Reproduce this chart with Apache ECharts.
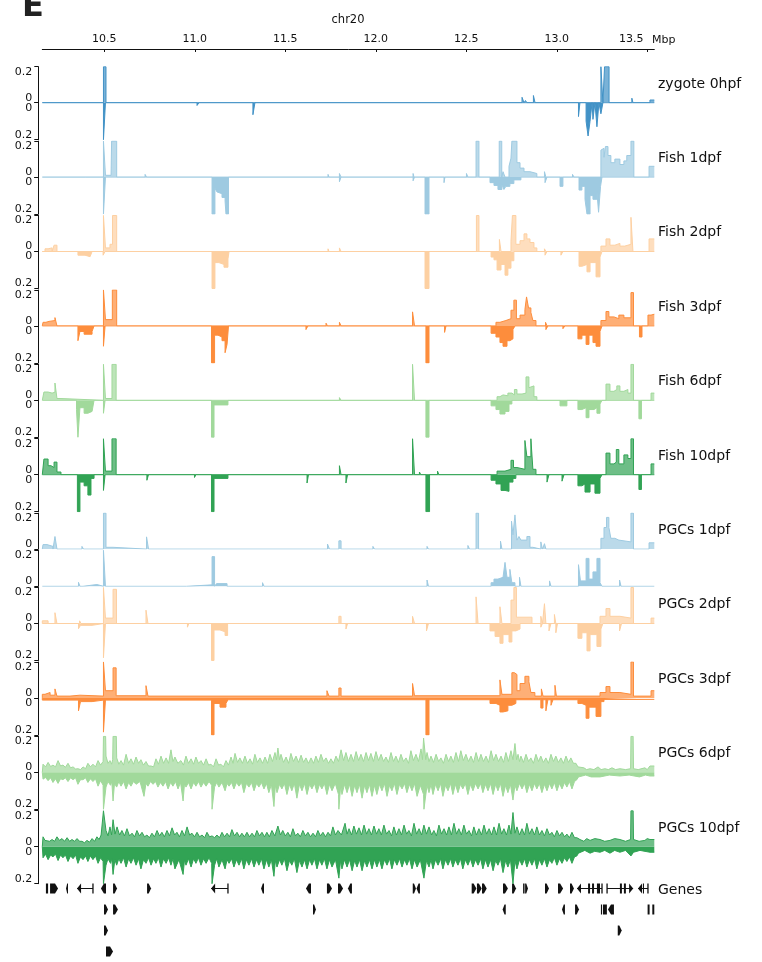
<!DOCTYPE html>
<html><head><meta charset="utf-8">
<script src="https://cdn.jsdelivr.net/npm/echarts@6/dist/echarts.min.js"></script>
<style>html,body{margin:0;padding:0;background:#fff}#c{width:762px;height:962px}</style>
</head><body><div id="c"></div>
<script>
const XMIN = 10.157, XMAX = 13.539;
const xTicks = [10.5, 11.0, 11.5, 12.0, 12.5, 13.0, 13.5];
const trackNames = ['zygote 0hpf','Fish 1dpf','Fish 2dpf','Fish 3dpf','Fish 6dpf','Fish 10dpf','PGCs 1dpf','PGCs 2dpf','PGCs 3dpf','PGCs 6dpf','PGCs 10dpf'];
const trackColors = ['#4292c6','#9ecae1','#fdd0a2','#fd8d3c','#a1d99b','#31a354','#9ecae1','#fdd0a2','#fd8d3c','#a1d99b','#31a354'];

// sparse tracks: change points [Mbp, value] (value holds until next point)
const zygoteUp = [[10.495,0.2],[10.509,0],[10.531,0.01],[10.537,0],[12.808,0.03],[12.819,0],[12.827,0.012],[12.835,0],[12.871,0.04],[12.880,0],[13.244,0.2],[13.255,0],[13.264,0.2],[13.289,0],[13.415,0.025],[13.421,0],[13.515,0.015]];
const zygoteDown = [[10.495,0.2],[10.506,0],[11.012,0.015],[11.023,0],[11.321,0.065],[11.332,0],[13.120,0.075],[13.128,0],[13.162,0.1],[13.173,0.18],[13.184,0.1],[13.195,0],[13.200,0.09],[13.211,0],[13.222,0.13],[13.233,0],[13.244,0.06],[13.255,0]];

const fish1Up = [[10.495,0.2],[10.506,0.01],[10.537,0],[10.540,0.2],[10.568,0],[10.725,0.015],[10.733,0],[11.736,0.015],[11.741,0],[11.799,0.02],[11.808,0],[12.206,0.02],[12.211,0],[12.501,0.02],[12.509,0],[12.554,0.2],[12.570,0],[12.682,0.2],[12.696,0],[12.703,0.03],[12.714,0],[12.736,0.06],[12.747,0.105],[12.752,0.2],[12.780,0.08],[12.797,0.05],[12.819,0.03],[12.852,0.02],[12.890,0],[12.932,0.03],[12.940,0],[13.087,0.015],[13.095,0],[13.244,0.15],[13.250,0.16],[13.261,0.11],[13.269,0.17],[13.283,0.12],[13.299,0.08],[13.321,0.1],[13.349,0.07],[13.371,0.09],[13.387,0.12],[13.410,0.2],[13.426,0],[13.510,0.06]];
const fish1Down = [[10.398,0.01],[10.409,0],[10.495,0.2],[10.506,0],[11.095,0.2],[11.111,0.06],[11.122,0.08],[11.133,0.09],[11.150,0.11],[11.167,0.13],[11.172,0.2],[11.186,0],[11.799,0.025],[11.808,0],[12.206,0.02],[12.214,0],[12.272,0.2],[12.294,0],[12.377,0.03],[12.382,0],[12.631,0.03],[12.653,0.045],[12.675,0.067],[12.697,0.04],[12.708,0.067],[12.719,0.05],[12.741,0.035],[12.763,0.015],[12.802,0],[12.935,0.03],[12.946,0],[13.018,0.05],[13.034,0],[13.123,0.07],[13.139,0.05],[13.156,0.12],[13.167,0.2],[13.184,0.1],[13.200,0.12],[13.222,0.08],[13.231,0.19],[13.242,0.05],[13.250,0]];

const fish2Up = [[10.172,0.015],[10.189,0.02],[10.211,0],[10.222,0.035],[10.238,0],[10.495,0.2],[10.506,0.02],[10.531,0.04],[10.545,0.2],[10.568,0],[11.736,0.015],[11.741,0],[11.799,0.02],[11.808,0],[12.556,0.2],[12.570,0],[12.683,0.067],[12.692,0],[12.747,0.057],[12.755,0.2],[12.774,0.04],[12.797,0.06],[12.819,0.098],[12.835,0.07],[12.852,0.05],[12.874,0.02],[12.890,0],[12.932,0.015],[12.940,0],[13.244,0.03],[13.272,0.07],[13.294,0.035],[13.321,0.045],[13.349,0.03],[13.376,0.04],[13.410,0.19],[13.421,0],[13.510,0.07]];
const fish2Down = [[10.354,0.02],[10.393,0.028],[10.421,0.02],[10.432,0],[10.493,0.02],[10.504,0],[11.095,0.2],[11.111,0.06],[11.133,0.07],[11.161,0.085],[11.183,0.04],[11.189,0],[12.272,0.2],[12.294,0],[12.637,0.03],[12.653,0.045],[12.670,0.1],[12.692,0.07],[12.714,0.128],[12.730,0.09],[12.747,0.05],[12.763,0],[12.935,0.02],[12.946,0],[13.023,0.02],[13.034,0],[13.123,0.08],[13.139,0.07],[13.167,0.11],[13.184,0.06],[13.217,0.137],[13.239,0.03],[13.250,0]];

const fish3Up = [[10.161,0.02],[10.177,0.025],[10.194,0.03],[10.227,0.046],[10.238,0],[10.495,0.2],[10.506,0.035],[10.544,0.2],[10.568,0],[10.730,0.01],[10.738,0],[11.725,0.015],[11.733,0],[11.799,0.02],[11.808,0],[12.203,0.078],[12.214,0],[12.664,0.02],[12.686,0.03],[12.719,0.04],[12.747,0.087],[12.763,0.143],[12.777,0.04],[12.797,0.06],[12.824,0.09],[12.833,0.161],[12.844,0.1],[12.857,0.075],[12.868,0.03],[12.885,0],[12.938,0.02],[12.946,0],[13.244,0.03],[13.272,0.08],[13.288,0.05],[13.316,0.04],[13.343,0.06],[13.371,0.045],[13.410,0.185],[13.424,0],[13.504,0.06],[13.521,0.065]];
const fish3Down = [[10.354,0.08],[10.365,0.03],[10.388,0.045],[10.432,0.03],[10.443,0],[10.495,0.11],[10.504,0],[11.092,0.2],[11.109,0.05],[11.128,0.06],[11.150,0.08],[11.167,0.145],[11.178,0.1],[11.186,0],[11.614,0.02],[11.625,0],[12.277,0.2],[12.294,0],[12.380,0.035],[12.388,0],[12.637,0.04],[12.664,0.06],[12.686,0.09],[12.703,0.11],[12.725,0.08],[12.741,0.07],[12.758,0.02],[12.769,0],[12.940,0.02],[12.951,0],[13.034,0.015],[13.045,0],[13.117,0.07],[13.139,0.05],[13.162,0.1],[13.178,0.05],[13.200,0.09],[13.217,0.11],[13.239,0.03],[13.250,0],[13.457,0.06],[13.471,0]];

const fish6Up = [[10.166,0.046],[10.189,0.04],[10.211,0.045],[10.227,0.096],[10.238,0.01],[10.255,0],[10.495,0.2],[10.506,0.01],[10.542,0.2],[10.565,0],[11.799,0.015],[11.808,0],[12.203,0.2],[12.214,0],[12.601,0.01],[12.609,0],[12.670,0.02],[12.686,0.03],[12.703,0.025],[12.730,0.04],[12.752,0.03],[12.766,0.06],[12.780,0.035],[12.808,0.04],[12.830,0.13],[12.846,0.07],[12.857,0.08],[12.874,0.02],[12.890,0],[13.272,0.09],[13.294,0.05],[13.316,0.06],[13.332,0.08],[13.349,0.05],[13.371,0.06],[13.393,0.04],[13.410,0.2],[13.424,0],[13.521,0.04]];
const fish6Down = [[10.346,0.05],[10.354,0.2],[10.365,0.04],[10.388,0.07],[10.409,0.06],[10.432,0.05],[10.443,0],[10.495,0.07],[10.504,0],[11.092,0.2],[11.106,0.025],[11.183,0],[12.277,0.2],[12.294,0],[12.637,0.03],[12.664,0.05],[12.686,0.074],[12.714,0.06],[12.736,0.02],[12.752,0],[13.018,0.03],[13.056,0],[13.117,0.05],[13.139,0.04],[13.162,0.094],[13.178,0.05],[13.206,0.04],[13.222,0.07],[13.239,0.02],[13.250,0],[13.454,0.1],[13.468,0]];

const fish10Up = [[10.166,0.087],[10.189,0.05],[10.205,0.04],[10.222,0.07],[10.238,0.015],[10.260,0],[10.495,0.2],[10.506,0.02],[10.542,0.2],[10.565,0],[10.722,0.01],[10.730,0],[11.310,0.01],[11.319,0],[11.799,0.05],[11.808,0],[12.203,0.2],[12.214,0],[12.241,0.015],[12.249,0],[12.341,0.02],[12.349,0],[12.670,0.02],[12.714,0.03],[12.747,0.08],[12.761,0.04],[12.780,0.03],[12.824,0.19],[12.835,0.1],[12.857,0.2],[12.868,0.03],[12.885,0],[13.272,0.12],[13.294,0.06],[13.316,0.07],[13.329,0.14],[13.343,0.06],[13.371,0.11],[13.393,0.09],[13.410,0.2],[13.424,0],[13.521,0.06]];
const fish10Down = [[10.351,0.2],[10.365,0.04],[10.388,0.06],[10.409,0.11],[10.426,0.02],[10.443,0],[10.495,0.085],[10.504,0],[10.735,0.03],[10.744,0],[10.998,0.015],[11.006,0],[11.092,0.2],[11.106,0.02],[11.183,0],[11.620,0.045],[11.628,0],[11.835,0.045],[11.844,0],[12.277,0.2],[12.297,0],[12.637,0.03],[12.664,0.05],[12.692,0.085],[12.714,0.09],[12.736,0.04],[12.758,0.02],[12.774,0],[12.946,0.04],[12.957,0],[13.029,0.035],[13.040,0],[13.117,0.06],[13.139,0.05],[13.156,0.094],[13.184,0.05],[13.211,0.1],[13.239,0.02],[13.250,0],[13.454,0.08],[13.468,0]];

const pgc1Up = [[10.161,0.025],[10.183,0.015],[10.216,0],[10.227,0.07],[10.238,0],[10.376,0.015],[10.385,0],[10.495,0.2],[10.509,0.01],[10.548,0],[10.733,0.068],[10.744,0],[11.733,0.028],[11.744,0],[11.796,0.046],[11.808,0],[11.984,0.015],[11.993,0],[12.249,0.01],[12.258,0],[12.283,0.015],[12.291,0],[12.509,0.02],[12.518,0],[12.554,0.2],[12.568,0],[12.689,0.044],[12.697,0],[12.750,0.155],[12.758,0.08],[12.769,0.19],[12.780,0.05],[12.791,0.07],[12.802,0.05],[12.835,0.07],[12.852,0.01],[12.868,0],[12.912,0.04],[12.921,0],[12.932,0.03],[12.940,0],[13.244,0.06],[13.261,0.12],[13.275,0.176],[13.288,0.12],[13.299,0.06],[13.321,0.05],[13.343,0.04],[13.410,0.2],[13.424,0],[13.510,0.035]];
const pgc1Low = [[10.357,0.022],[10.365,0],[10.382,0.01],[10.459,0],[10.495,0.2],[10.506,0],[10.954,0.008],[11.095,0.165],[11.109,0],[11.120,0.015],[11.178,0],[11.374,0.02],[11.382,0],[12.283,0.035],[12.291,0],[12.637,0.02],[12.653,0.04],[12.675,0.05],[12.703,0.04],[12.714,0.133],[12.725,0.05],[12.741,0.094],[12.752,0.02],[12.769,0],[12.794,0.05],[12.802,0],[12.960,0.03],[12.968,0],[13.120,0.12],[13.131,0.03],[13.162,0.155],[13.178,0.04],[13.200,0.08],[13.222,0.155],[13.239,0.02],[13.250,0],[13.347,0.035],[13.355,0]];

const pgc2Up = [[10.157,0.015],[10.189,0],[10.227,0.06],[10.238,0],[10.363,0.015],[10.371,0],[10.495,0.2],[10.506,0.03],[10.548,0.19],[10.567,0],[10.730,0.074],[10.741,0],[10.824,0.01],[10.832,0],[11.796,0.04],[11.808,0],[12.203,0.04],[12.214,0],[12.554,0.148],[12.565,0],[12.686,0.093],[12.697,0],[12.747,0.13],[12.763,0.2],[12.777,0.035],[12.863,0],[12.912,0.04],[12.921,0],[12.932,0.11],[12.940,0],[12.987,0.05],[12.995,0],[13.239,0.04],[13.272,0.083],[13.294,0.04],[13.349,0.03],[13.410,0.2],[13.424,0],[13.521,0.03]];
const pgc2Down = [[10.357,0.028],[10.368,0.01],[10.432,0],[10.495,0.185],[10.506,0],[10.959,0.02],[10.967,0],[11.092,0.2],[11.106,0.035],[11.139,0.045],[11.167,0.065],[11.181,0],[11.835,0.03],[11.844,0],[12.280,0.04],[12.291,0],[12.631,0.04],[12.659,0.07],[12.686,0.107],[12.703,0.06],[12.736,0.1],[12.752,0.04],[12.774,0.03],[12.797,0],[12.912,0.02],[12.921,0],[12.957,0.04],[12.968,0],[12.995,0.05],[13.004,0],[13.117,0.08],[13.139,0.05],[13.167,0.148],[13.184,0.06],[13.222,0.124],[13.244,0.03],[13.255,0],[13.347,0.04],[13.358,0]];

const pgc3Up = [[10.157,0.02],[10.172,0.03],[10.200,0.015],[10.227,0.05],[10.238,0.01],[10.310,0.015],[10.365,0.01],[10.495,0.2],[10.506,0.04],[10.548,0.167],[10.565,0.012],[10.730,0.068],[10.741,0.01],[11.730,0.04],[11.741,0.01],[11.796,0.055],[11.808,0.01],[12.203,0.08],[12.214,0.012],[12.686,0.1],[12.697,0.02],[12.752,0.14],[12.766,0.13],[12.780,0.04],[12.797,0.08],[12.824,0.12],[12.846,0.09],[12.857,0.03],[12.879,0.01],[12.915,0.05],[12.924,0.01],[12.990,0.07],[12.998,0.01],[13.239,0.03],[13.272,0.063],[13.294,0.03],[13.349,0.02],[13.410,0.2],[13.424,0.01],[13.521,0.04]];
const pgc3Down = [[10.157,0.012],[10.357,0.07],[10.368,0.02],[10.432,0.012],[10.495,0.185],[10.506,0.012],[11.092,0.2],[11.106,0.03],[11.139,0.05],[11.172,0.03],[11.183,0.01],[11.835,0.02],[11.844,0.01],[12.277,0.2],[12.294,0.01],[12.631,0.03],[12.664,0.04],[12.686,0.076],[12.703,0.07],[12.730,0.04],[12.752,0.03],[12.774,0.01],[12.912,0.055],[12.924,0.01],[12.940,0.07],[12.951,0.01],[12.968,0.04],[12.979,0.01],[13.117,0.03],[13.139,0.04],[13.162,0.11],[13.178,0.05],[13.217,0.1],[13.244,0.02],[13.261,0.008]];

// dense tracks: vertices [Mbp, value] (peaks and troughs)
const pgc6Up = [[10.161,0.045],[10.175,0.03],[10.189,0.055],[10.203,0.032],[10.216,0.04],[10.230,0.03],[10.244,0.065],[10.258,0.035],[10.271,0.04],[10.285,0.028],[10.299,0.05],[10.313,0.025],[10.327,0.03],[10.341,0.018],[10.354,0.02],[10.368,0.015],[10.382,0.03],[10.396,0.02],[10.409,0.05],[10.423,0.03],[10.437,0.045],[10.451,0.03],[10.465,0.065],[10.479,0.04],[10.493,0.06],[10.495,0.2],[10.507,0.2],[10.509,0.09],[10.520,0.05],[10.531,0.065],[10.540,0.045],[10.546,0.07],[10.548,0.2],[10.566,0.2],[10.568,0.08],[10.580,0.045],[10.592,0.065],[10.606,0.04],[10.620,0.1],[10.634,0.05],[10.647,0.075],[10.661,0.045],[10.675,0.085],[10.689,0.05],[10.702,0.07],[10.716,0.04],[10.730,0.06],[10.744,0.035],[10.758,0.035],[10.772,0.03],[10.785,0.075],[10.799,0.045],[10.813,0.09],[10.827,0.05],[10.841,0.08],[10.855,0.05],[10.868,0.125],[10.879,0.06],[10.890,0.085],[10.906,0.05],[10.923,0.065],[10.937,0.04],[10.951,0.09],[10.965,0.05],[10.979,0.075],[10.993,0.045],[11.006,0.085],[11.020,0.05],[11.034,0.065],[11.048,0.04],[11.062,0.075],[11.076,0.04],[11.089,0.045],[11.103,0.03],[11.117,0.075],[11.131,0.04],[11.144,0.045],[11.158,0.03],[11.172,0.065],[11.186,0.04],[11.200,0.085],[11.211,0.05],[11.222,0.105],[11.236,0.055],[11.249,0.08],[11.263,0.05],[11.277,0.09],[11.291,0.05],[11.305,0.075],[11.319,0.045],[11.332,0.1],[11.346,0.055],[11.360,0.08],[11.374,0.05],[11.388,0.085],[11.402,0.05],[11.415,0.1],[11.429,0.06],[11.443,0.11],[11.451,0.07],[11.459,0.135],[11.468,0.07],[11.476,0.1],[11.490,0.055],[11.504,0.085],[11.518,0.05],[11.531,0.105],[11.545,0.06],[11.559,0.09],[11.573,0.055],[11.587,0.095],[11.601,0.055],[11.614,0.08],[11.628,0.05],[11.642,0.08],[11.656,0.05],[11.669,0.09],[11.683,0.055],[11.697,0.1],[11.711,0.06],[11.725,0.08],[11.739,0.05],[11.752,0.075],[11.766,0.05],[11.780,0.09],[11.794,0.06],[11.808,0.125],[11.822,0.065],[11.835,0.11],[11.849,0.06],[11.863,0.1],[11.877,0.06],[11.891,0.115],[11.905,0.065],[11.918,0.1],[11.932,0.06],[11.946,0.11],[11.960,0.065],[11.973,0.105],[11.987,0.06],[12.001,0.115],[12.015,0.065],[12.029,0.1],[12.043,0.06],[12.056,0.085],[12.070,0.055],[12.084,0.11],[12.098,0.06],[12.111,0.09],[12.125,0.055],[12.139,0.1],[12.153,0.06],[12.167,0.08],[12.181,0.05],[12.194,0.12],[12.208,0.065],[12.222,0.1],[12.236,0.06],[12.250,0.13],[12.258,0.07],[12.264,0.19],[12.269,0.19],[12.276,0.07],[12.283,0.11],[12.294,0.06],[12.305,0.09],[12.319,0.055],[12.333,0.1],[12.347,0.06],[12.360,0.08],[12.374,0.05],[12.388,0.1],[12.402,0.06],[12.415,0.09],[12.429,0.055],[12.443,0.11],[12.457,0.06],[12.470,0.12],[12.484,0.065],[12.498,0.1],[12.512,0.06],[12.526,0.09],[12.540,0.055],[12.554,0.11],[12.568,0.06],[12.581,0.1],[12.595,0.06],[12.609,0.09],[12.623,0.055],[12.637,0.12],[12.651,0.065],[12.664,0.1],[12.678,0.06],[12.692,0.09],[12.706,0.055],[12.719,0.11],[12.733,0.06],[12.747,0.12],[12.758,0.07],[12.769,0.16],[12.778,0.07],[12.786,0.1],[12.794,0.06],[12.802,0.09],[12.816,0.055],[12.830,0.1],[12.844,0.06],[12.857,0.08],[12.871,0.05],[12.885,0.1],[12.899,0.06],[12.912,0.09],[12.926,0.055],[12.940,0.08],[12.954,0.05],[12.968,0.1],[12.982,0.06],[12.995,0.09],[13.009,0.055],[13.023,0.08],[13.037,0.05],[13.051,0.09],[13.065,0.055],[13.078,0.08],[13.092,0.05],[13.106,0.05],[13.117,0.03],[13.128,0.02],[13.150,0.025],[13.165,0.015],[13.184,0.02],[13.205,0.015],[13.228,0.03],[13.245,0.015],[13.266,0.02],[13.285,0.015],[13.305,0.025],[13.325,0.015],[13.349,0.02],[13.380,0.015],[13.408,0.02],[13.410,0.2],[13.422,0.2],[13.424,0.02],[13.450,0.015],[13.487,0.025],[13.500,0.015],[13.515,0.035]];
const pgc6Down = [[10.161,0.037],[10.175,0.028],[10.189,0.045],[10.203,0.03],[10.216,0.055],[10.230,0.035],[10.244,0.06],[10.258,0.035],[10.271,0.04],[10.285,0.03],[10.299,0.05],[10.313,0.03],[10.327,0.04],[10.341,0.03],[10.354,0.065],[10.368,0.04],[10.382,0.04],[10.396,0.03],[10.409,0.055],[10.423,0.035],[10.437,0.05],[10.451,0.035],[10.465,0.075],[10.479,0.045],[10.493,0.07],[10.495,0.2],[10.505,0.2],[10.509,0.08],[10.520,0.05],[10.534,0.07],[10.541,0.05],[10.548,0.155],[10.556,0.06],[10.568,0.08],[10.580,0.05],[10.592,0.075],[10.606,0.05],[10.620,0.09],[10.634,0.055],[10.647,0.075],[10.661,0.05],[10.675,0.065],[10.697,0.05],[10.719,0.13],[10.730,0.06],[10.741,0.075],[10.755,0.05],[10.769,0.065],[10.783,0.05],[10.796,0.08],[10.810,0.055],[10.824,0.075],[10.838,0.05],[10.852,0.09],[10.866,0.055],[10.879,0.075],[10.893,0.05],[10.907,0.09],[10.921,0.055],[10.935,0.155],[10.943,0.06],[10.951,0.08],[10.965,0.055],[10.979,0.09],[10.993,0.055],[11.006,0.075],[11.020,0.05],[11.034,0.08],[11.048,0.055],[11.062,0.075],[11.078,0.05],[11.093,0.07],[11.095,0.2],[11.105,0.2],[11.109,0.08],[11.121,0.055],[11.133,0.08],[11.150,0.055],[11.167,0.1],[11.178,0.06],[11.189,0.075],[11.203,0.055],[11.216,0.09],[11.230,0.055],[11.244,0.075],[11.258,0.055],[11.271,0.11],[11.285,0.06],[11.299,0.08],[11.313,0.055],[11.327,0.1],[11.341,0.06],[11.354,0.08],[11.368,0.055],[11.382,0.09],[11.396,0.06],[11.409,0.11],[11.423,0.065],[11.437,0.185],[11.445,0.07],[11.454,0.11],[11.468,0.065],[11.481,0.09],[11.495,0.06],[11.509,0.12],[11.523,0.065],[11.536,0.1],[11.550,0.06],[11.564,0.14],[11.578,0.065],[11.592,0.1],[11.606,0.06],[11.620,0.12],[11.634,0.065],[11.647,0.09],[11.661,0.06],[11.675,0.11],[11.689,0.065],[11.702,0.09],[11.716,0.06],[11.730,0.12],[11.744,0.065],[11.758,0.1],[11.776,0.06],[11.794,0.12],[11.796,0.2],[11.800,0.2],[11.806,0.07],[11.813,0.12],[11.827,0.065],[11.841,0.11],[11.855,0.065],[11.869,0.13],[11.883,0.07],[11.896,0.11],[11.910,0.065],[11.924,0.14],[11.938,0.07],[11.951,0.11],[11.965,0.065],[11.979,0.13],[11.993,0.07],[12.006,0.12],[12.020,0.065],[12.034,0.1],[12.048,0.06],[12.062,0.13],[12.076,0.07],[12.089,0.1],[12.103,0.06],[12.117,0.12],[12.131,0.065],[12.145,0.09],[12.159,0.06],[12.172,0.11],[12.186,0.065],[12.200,0.1],[12.214,0.06],[12.228,0.13],[12.246,0.07],[12.264,0.12],[12.266,0.2],[12.272,0.2],[12.283,0.07],[12.294,0.11],[12.305,0.065],[12.316,0.12],[12.330,0.065],[12.344,0.1],[12.358,0.06],[12.371,0.13],[12.385,0.07],[12.399,0.1],[12.413,0.06],[12.426,0.12],[12.440,0.065],[12.454,0.11],[12.468,0.065],[12.481,0.09],[12.495,0.06],[12.509,0.12],[12.523,0.065],[12.537,0.1],[12.551,0.06],[12.565,0.09],[12.579,0.06],[12.592,0.11],[12.606,0.065],[12.620,0.1],[12.634,0.06],[12.648,0.12],[12.662,0.065],[12.675,0.1],[12.689,0.06],[12.703,0.13],[12.717,0.07],[12.730,0.11],[12.744,0.065],[12.758,0.15],[12.769,0.07],[12.780,0.1],[12.794,0.06],[12.808,0.09],[12.822,0.06],[12.835,0.11],[12.849,0.065],[12.863,0.1],[12.877,0.06],[12.890,0.09],[12.904,0.06],[12.918,0.11],[12.932,0.065],[12.946,0.1],[12.960,0.06],[12.973,0.09],[12.987,0.055],[13.001,0.1],[13.015,0.06],[13.029,0.09],[13.043,0.055],[13.056,0.08],[13.070,0.05],[13.084,0.09],[13.098,0.05],[13.111,0.04],[13.120,0.025],[13.128,0.02],[13.160,0.015],[13.190,0.025],[13.239,0.025],[13.290,0.015],[13.349,0.02],[13.400,0.015],[13.457,0.025],[13.490,0.015],[13.515,0.02]];

const pgc10Up = [[10.161,0.055],[10.172,0.035],[10.183,0.045],[10.197,0.03],[10.211,0.04],[10.225,0.03],[10.238,0.055],[10.252,0.035],[10.266,0.045],[10.280,0.03],[10.294,0.05],[10.308,0.03],[10.321,0.04],[10.335,0.03],[10.349,0.045],[10.363,0.03],[10.376,0.03],[10.390,0.022],[10.404,0.035],[10.418,0.025],[10.432,0.045],[10.446,0.03],[10.459,0.055],[10.471,0.04],[10.482,0.065],[10.493,0.07],[10.495,0.2],[10.505,0.2],[10.509,0.09],[10.520,0.06],[10.531,0.11],[10.540,0.065],[10.548,0.15],[10.559,0.07],[10.570,0.11],[10.584,0.065],[10.597,0.09],[10.611,0.06],[10.625,0.1],[10.639,0.06],[10.653,0.075],[10.667,0.055],[10.680,0.09],[10.694,0.06],[10.708,0.08],[10.722,0.055],[10.735,0.065],[10.749,0.05],[10.763,0.075],[10.777,0.055],[10.791,0.09],[10.805,0.06],[10.818,0.08],[10.832,0.055],[10.846,0.09],[10.860,0.06],[10.874,0.105],[10.888,0.065],[10.901,0.08],[10.915,0.055],[10.929,0.09],[10.943,0.06],[10.957,0.11],[10.971,0.065],[10.984,0.075],[10.998,0.055],[11.012,0.08],[11.026,0.055],[11.040,0.065],[11.054,0.05],[11.067,0.08],[11.081,0.055],[11.095,0.06],[11.109,0.05],[11.122,0.065],[11.136,0.05],[11.150,0.08],[11.164,0.055],[11.178,0.075],[11.192,0.055],[11.205,0.095],[11.219,0.06],[11.233,0.08],[11.247,0.055],[11.260,0.075],[11.274,0.055],[11.288,0.08],[11.302,0.055],[11.316,0.075],[11.330,0.055],[11.343,0.09],[11.357,0.06],[11.371,0.08],[11.385,0.055],[11.398,0.08],[11.412,0.055],[11.426,0.09],[11.442,0.06],[11.459,0.115],[11.473,0.065],[11.486,0.09],[11.500,0.06],[11.514,0.08],[11.528,0.055],[11.542,0.1],[11.556,0.06],[11.569,0.075],[11.583,0.055],[11.597,0.09],[11.611,0.06],[11.625,0.08],[11.639,0.055],[11.653,0.075],[11.667,0.055],[11.680,0.09],[11.694,0.06],[11.708,0.08],[11.722,0.055],[11.736,0.08],[11.750,0.06],[11.763,0.11],[11.777,0.065],[11.791,0.09],[11.810,0.065],[11.830,0.13],[11.841,0.07],[11.852,0.1],[11.866,0.065],[11.879,0.115],[11.893,0.07],[11.907,0.105],[11.921,0.065],[11.935,0.12],[11.949,0.07],[11.962,0.1],[11.976,0.065],[11.990,0.115],[12.004,0.07],[12.017,0.1],[12.031,0.065],[12.045,0.12],[12.059,0.07],[12.073,0.09],[12.087,0.06],[12.100,0.11],[12.114,0.065],[12.128,0.1],[12.142,0.065],[12.156,0.12],[12.170,0.07],[12.183,0.09],[12.197,0.06],[12.211,0.13],[12.225,0.07],[12.239,0.1],[12.253,0.065],[12.266,0.12],[12.280,0.07],[12.294,0.11],[12.308,0.065],[12.321,0.09],[12.335,0.06],[12.349,0.12],[12.363,0.07],[12.377,0.1],[12.391,0.065],[12.404,0.11],[12.418,0.065],[12.432,0.13],[12.446,0.07],[12.459,0.1],[12.473,0.065],[12.487,0.12],[12.501,0.07],[12.515,0.09],[12.529,0.06],[12.542,0.11],[12.556,0.065],[12.570,0.1],[12.584,0.065],[12.598,0.12],[12.612,0.07],[12.626,0.1],[12.640,0.065],[12.653,0.11],[12.667,0.065],[12.681,0.13],[12.695,0.07],[12.708,0.1],[12.722,0.065],[12.736,0.12],[12.747,0.07],[12.758,0.19],[12.769,0.075],[12.780,0.11],[12.794,0.065],[12.808,0.1],[12.822,0.065],[12.835,0.13],[12.849,0.07],[12.863,0.1],[12.877,0.065],[12.890,0.11],[12.904,0.065],[12.918,0.09],[12.932,0.06],[12.946,0.1],[12.960,0.065],[12.973,0.08],[12.987,0.055],[13.001,0.09],[13.015,0.06],[13.029,0.08],[13.043,0.055],[13.056,0.07],[13.070,0.05],[13.084,0.08],[13.098,0.05],[13.111,0.05],[13.120,0.04],[13.128,0.04],[13.150,0.03],[13.165,0.045],[13.184,0.035],[13.210,0.045],[13.239,0.04],[13.265,0.03],[13.294,0.035],[13.320,0.045],[13.349,0.04],[13.380,0.03],[13.408,0.04],[13.410,0.2],[13.422,0.2],[13.424,0.04],[13.455,0.03],[13.487,0.035],[13.500,0.045],[13.515,0.04]];
const pgc10Down = [[10.161,0.06],[10.175,0.04],[10.189,0.07],[10.203,0.045],[10.216,0.055],[10.230,0.04],[10.244,0.075],[10.258,0.045],[10.271,0.06],[10.285,0.045],[10.299,0.08],[10.313,0.05],[10.327,0.065],[10.341,0.045],[10.354,0.09],[10.368,0.055],[10.382,0.07],[10.396,0.05],[10.409,0.08],[10.423,0.05],[10.437,0.07],[10.451,0.05],[10.465,0.09],[10.479,0.06],[10.493,0.08],[10.495,0.2],[10.505,0.2],[10.509,0.1],[10.520,0.065],[10.534,0.09],[10.541,0.065],[10.548,0.15],[10.558,0.07],[10.568,0.1],[10.580,0.065],[10.592,0.09],[10.606,0.06],[10.620,0.11],[10.634,0.065],[10.647,0.09],[10.661,0.06],[10.675,0.1],[10.689,0.065],[10.702,0.12],[10.716,0.07],[10.730,0.09],[10.744,0.06],[10.758,0.1],[10.772,0.065],[10.785,0.09],[10.799,0.06],[10.813,0.11],[10.827,0.065],[10.841,0.09],[10.855,0.06],[10.868,0.1],[10.879,0.065],[10.890,0.12],[10.912,0.07],[10.935,0.15],[10.943,0.07],[10.951,0.1],[10.965,0.065],[10.979,0.11],[10.993,0.065],[11.006,0.09],[11.020,0.06],[11.034,0.1],[11.048,0.065],[11.062,0.09],[11.078,0.06],[11.093,0.09],[11.095,0.2],[11.105,0.2],[11.109,0.1],[11.121,0.065],[11.133,0.11],[11.150,0.07],[11.167,0.12],[11.178,0.07],[11.189,0.09],[11.203,0.065],[11.216,0.11],[11.230,0.07],[11.244,0.1],[11.258,0.065],[11.271,0.12],[11.285,0.07],[11.299,0.1],[11.313,0.065],[11.327,0.11],[11.341,0.07],[11.354,0.1],[11.368,0.065],[11.382,0.12],[11.396,0.07],[11.409,0.11],[11.423,0.07],[11.437,0.16],[11.445,0.075],[11.454,0.11],[11.468,0.07],[11.481,0.1],[11.495,0.065],[11.509,0.13],[11.523,0.075],[11.536,0.1],[11.550,0.065],[11.564,0.14],[11.578,0.075],[11.592,0.11],[11.606,0.07],[11.620,0.12],[11.634,0.07],[11.647,0.1],[11.661,0.065],[11.675,0.12],[11.689,0.07],[11.702,0.1],[11.716,0.065],[11.730,0.12],[11.744,0.07],[11.758,0.11],[11.777,0.07],[11.796,0.17],[11.805,0.075],[11.813,0.12],[11.827,0.07],[11.841,0.11],[11.855,0.07],[11.869,0.13],[11.883,0.075],[11.896,0.11],[11.910,0.07],[11.924,0.13],[11.938,0.075],[11.951,0.11],[11.965,0.07],[11.979,0.12],[11.993,0.07],[12.006,0.11],[12.020,0.07],[12.034,0.12],[12.048,0.07],[12.062,0.1],[12.076,0.065],[12.089,0.12],[12.103,0.07],[12.117,0.1],[12.131,0.065],[12.145,0.11],[12.159,0.07],[12.172,0.1],[12.186,0.065],[12.200,0.12],[12.214,0.07],[12.228,0.11],[12.246,0.07],[12.266,0.17],[12.280,0.075],[12.294,0.11],[12.305,0.07],[12.316,0.12],[12.330,0.07],[12.344,0.1],[12.358,0.065],[12.371,0.12],[12.385,0.07],[12.399,0.1],[12.413,0.065],[12.426,0.11],[12.440,0.07],[12.454,0.1],[12.468,0.065],[12.481,0.12],[12.495,0.07],[12.509,0.1],[12.523,0.065],[12.537,0.11],[12.551,0.07],[12.565,0.1],[12.579,0.065],[12.592,0.12],[12.606,0.07],[12.620,0.11],[12.634,0.07],[12.648,0.13],[12.662,0.075],[12.675,0.1],[12.689,0.065],[12.703,0.14],[12.717,0.075],[12.730,0.11],[12.744,0.07],[12.758,0.2],[12.769,0.075],[12.780,0.12],[12.794,0.07],[12.808,0.1],[12.822,0.065],[12.835,0.11],[12.849,0.07],[12.863,0.1],[12.877,0.065],[12.890,0.12],[12.904,0.07],[12.918,0.1],[12.932,0.065],[12.946,0.11],[12.960,0.07],[12.973,0.09],[12.987,0.06],[13.001,0.1],[13.015,0.065],[13.029,0.09],[13.043,0.06],[13.056,0.08],[13.070,0.055],[13.084,0.09],[13.098,0.055],[13.111,0.05],[13.120,0.035],[13.128,0.03],[13.155,0.02],[13.184,0.035],[13.210,0.025],[13.239,0.03],[13.265,0.02],[13.294,0.035],[13.320,0.02],[13.349,0.03],[13.380,0.02],[13.410,0.05],[13.424,0.03],[13.460,0.02],[13.515,0.03]];

// genes: [start Mbp, end Mbp, strand (1 / -1 / 0), row, kind (1 = line gene, 0 = block)]
const genes = [
 [10.177,10.189,0,0,0],[10.200,10.244,1,0,0],[10.288,10.299,-1,0,0],[10.349,10.437,-1,0,1],[10.481,10.509,-1,0,0],[10.548,10.570,1,0,0],[10.736,10.758,1,0,0],[11.090,11.183,-1,0,1],[11.366,11.382,-1,0,0],[11.614,11.642,-1,0,0],[11.730,11.758,1,0,0],[11.791,11.819,1,0,0],[11.846,11.868,-1,0,0],
 [12.204,12.222,1,0,0],[12.225,12.244,-1,0,0],[12.530,12.556,1,0,0],[12.559,12.585,1,0,0],[12.587,12.613,1,0,0],[12.703,12.730,1,0,0],[12.753,12.775,1,0,0],[12.814,12.822,0,0,0],[12.825,12.841,1,0,0],[12.935,12.957,1,0,0],[13.007,13.035,1,0,0],[13.073,13.095,1,0,0],
 [13.112,13.250,-1,0,1],[13.173,13.184,0,0,0],[13.195,13.206,0,0,0],[13.222,13.239,0,0,0],[13.278,13.422,1,0,1],[13.349,13.360,0,0,0],[13.371,13.382,0,0,0],[13.449,13.504,-1,0,1],[13.476,13.482,0,0,0],
 [10.498,10.520,1,1,0],[10.548,10.575,1,1,0],[11.653,11.669,1,1,0],[12.701,12.718,-1,1,0],[13.029,13.045,-1,1,0],[13.101,13.123,1,1,0],[13.244,13.250,0,1,0],[13.255,13.277,0,1,0],[13.283,13.316,-1,1,0],[13.502,13.513,0,1,0],[13.528,13.539,0,1,0],
 [10.498,10.520,1,2,0],[13.337,13.359,1,2,0],
 [10.509,10.548,1,3,0]
];

const upperData = [zygoteUp, fish1Up, fish2Up, fish3Up, fish6Up, fish10Up, pgc1Up, pgc2Up, pgc3Up, pgc6Up, pgc10Up];
const lowerData = [zygoteDown, fish1Down, fish2Down, fish3Down, fish6Down, fish10Down, pgc1Low, pgc2Down, pgc3Down, pgc6Down, pgc10Down];
const stepped = [true, true, true, true, true, true, true, true, true, false, false];

const FONT = 'DejaVu Sans';
const INK = '#111';
const GL = 42.3, GW = 612;
const ZERO0 = 102.7, STEP = 74.4;

const grids = [], xAxes = [], yAxes = [], series = [], graphics = [];

function toSeries(list) {
  const out = [[XMIN, 0]];
  list.forEach(p => out.push([p[0], p[1]]));
  out.push([XMAX, list[list.length - 1][1]]);
  return out;
}

// top genomic axis
grids.push({left: GL, width: GW, top: 48, height: 1});
xAxes.push({type: 'value', gridIndex: 0, min: XMIN, max: XMAX, position: 'top',
  axisLine: {show: true, lineStyle: {color: INK, width: 1}},
  axisTick: {show: true, inside: true, length: 3, customValues: xTicks, lineStyle: {color: INK}},
  axisLabel: {customValues: xTicks, margin: 3, fontSize: 11, fontFamily: FONT, color: INK,
    formatter: v => v > 13.4 ? '{r|' + v.toFixed(1) + '}' : v.toFixed(1),
    rich: {r: {padding: [0, 32, 0, 0], fontSize: 11, fontFamily: FONT, color: INK}}},
  splitLine: {show: false}});
yAxes.push({type: 'value', gridIndex: 0, show: false});

function addPanel(top, height, inverse, data, color, fillOpacity, step) {
  const gi = grids.length;
  grids.push({left: GL, width: GW, top: top, height: height});
  xAxes.push({type: 'value', gridIndex: gi, min: XMIN, max: XMAX, show: false});
  const tok = {fontSize: 11, fontFamily: FONT, color: INK};
  yAxes.push({type: 'value', gridIndex: gi, min: 0, max: 0.2, interval: 0.2, inverse: inverse, offset: 4,
    axisLine: {show: true, lineStyle: {color: INK, width: 1}},
    axisTick: {show: true, length: 4, lineStyle: {color: INK}},
    splitLine: {show: false},
    axisLabel: {margin: 6, fontSize: 11, fontFamily: FONT, color: INK,
      formatter: v => {
        const big = v > 0.1;
        const atTop = inverse ? !big : big;
        return '{' + (atTop ? 't' : 'b') + '|' + (big ? '0.2' : '0') + '}';
      },
      rich: {t: Object.assign({padding: [10, 0, 0, 0]}, tok), b: Object.assign({padding: [0, 0, 10, 0]}, tok)}}});
  series.push({type: 'line', xAxisIndex: gi, yAxisIndex: gi, data: toSeries(data), step: step ? 'end' : false,
    symbol: 'none', showSymbol: false, clip: true, silent: true, animation: false,
    lineStyle: {color: color, width: 1}, areaStyle: {color: color, opacity: fillOpacity}});
}

trackNames.forEach((name, i) => {
  const zero = ZERO0 + STEP * i;
  addPanel(zero - 36, 36, false, upperData[i], trackColors[i], 0.7, stepped[i]);
  if (i === 6) {
    addPanel(zero + 1.2, 36, false, lowerData[i], trackColors[i], 1, stepped[i]);
  } else {
    addPanel(zero, 37, true, lowerData[i], trackColors[i], 1, stepped[i]);
  }
  graphics.push({type: 'text', x: 658, y: zero - 18.7, silent: true,
    style: {text: name, fontSize: 14, fontFamily: FONT, fill: INK, verticalAlign: 'middle', align: 'left'}});
});

// genes panel
const gGrid = grids.length;
grids.push({left: GL, width: GW, top: 878, height: 90.8});
xAxes.push({type: 'value', gridIndex: gGrid, min: XMIN, max: XMAX, show: false});
yAxes.push({type: 'value', gridIndex: gGrid, min: -0.5, max: 3.5, inverse: true, show: false});
series.push({type: 'custom', xAxisIndex: gGrid, yAxisIndex: gGrid, data: genes, silent: true, animation: false, clip: false,
  renderItem: function (params, api) {
    const s = api.value(0), e = api.value(1), strand = api.value(2), row = api.value(3), kind = api.value(4);
    const p0 = api.coord([s, row]), p1 = api.coord([e, row]);
    const x0 = p0[0], x1 = p1[0], y = p0[1], h = 5;
    const ch = [];
    if (kind === 0) {
      let pts;
      const tip = Math.min(3, (x1 - x0) * 0.6);
      if (strand > 0) pts = [[x0, y - h], [x1 - tip, y - h], [x1, y], [x1 - tip, y + h], [x0, y + h]];
      else if (strand < 0) pts = [[x1, y - h], [x0 + tip, y - h], [x0, y], [x0 + tip, y + h], [x1, y + h]];
      else pts = [[x0, y - h], [x1, y - h], [x1, y + h], [x0, y + h]];
      ch.push({type: 'polygon', shape: {points: pts}, style: {fill: INK}});
    } else {
      ch.push({type: 'line', shape: {x1: x0, y1: y, x2: x1, y2: y}, style: {stroke: INK, lineWidth: 1}});
      const ax = strand > 0 ? x1 : x0, bx = strand > 0 ? x0 : x1, d = strand > 0 ? -4 : 4;
      ch.push({type: 'polygon', shape: {points: [[ax, y], [ax + d, y - h], [ax + d, y + h]]}, style: {fill: INK}});
      ch.push({type: 'line', shape: {x1: bx, y1: y - h, x2: bx, y2: y + h}, style: {stroke: INK, lineWidth: 1.3}});
    }
    return {type: 'group', children: ch};
  }});

graphics.push({type: 'text', x: 658, y: 890, silent: true, style: {text: 'Genes', fontSize: 14, fontFamily: FONT, fill: INK, verticalAlign: 'middle', align: 'left'}});
graphics.push({type: 'text', x: 348, y: 20, silent: true, style: {text: 'chr20', fontSize: 11.5, fontFamily: FONT, fill: INK, verticalAlign: 'middle', align: 'center'}});
graphics.push({type: 'text', x: 652, y: 40, silent: true, style: {text: 'Mbp', fontSize: 11, fontFamily: FONT, fill: INK, verticalAlign: 'middle', align: 'left'}});
graphics.push({type: 'text', x: 22, y: 7.6, silent: true, style: {text: 'E', fontSize: 32, fontWeight: 'bold', fontFamily: FONT, fill: '#222', verticalAlign: 'middle', align: 'left'}});

const chart = echarts.init(document.getElementById('c'), null, {renderer: 'canvas'});
chart.setOption({animation: false, backgroundColor: '#fff', grid: grids, xAxis: xAxes, yAxis: yAxes, series: series, graphic: graphics});
</script></body></html>
